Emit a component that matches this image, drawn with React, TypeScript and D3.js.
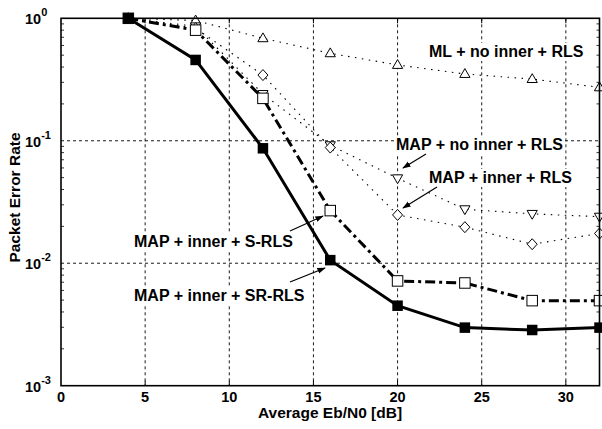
import React from "react";
import * as d3 from "d3";

const xs = [4, 8, 12, 16, 20, 24, 28, 32];
const srRls = [1.0, 0.457, 0.0868, 0.0106, 0.0045, 0.00298, 0.00285, 0.00298];
const sRls = [1.0, 0.8, 0.222, 0.0269, 0.00717, 0.0069, 0.00495, 0.00495];
const mlNoInner = [1.0, 0.96, 0.687, 0.518, 0.416, 0.351, 0.319, 0.273];
const mapNoInner = [1.0, 0.86, 0.241, 0.092, 0.0494, 0.0276, 0.0253, 0.024];
const mapInner = [1.0, 0.83, 0.344, 0.088, 0.0248, 0.0197, 0.0143, 0.0175];

const xTicks = [0, 5, 10, 15, 20, 25, 30];
const yTicks = [1, 0.1, 0.01, 0.001];
const yExps = ["0", "-1", "-2", "-3"];

const labels = [
  { text: "ML + no inner + RLS", x: 429, y: 57 },
  { text: "MAP + no inner + RLS", x: 396, y: 150 },
  { text: "MAP + inner + RLS", x: 429, y: 183 },
  { text: "MAP + inner + S-RLS", x: 134, y: 247 },
  { text: "MAP + inner + SR-RLS", x: 134, y: 301 },
];
const arrows = [
  { x1: 426, y1: 154, x2: 403, y2: 168 },
  { x1: 437, y1: 187, x2: 403, y2: 208 },
  { x1: 290, y1: 231, x2: 323, y2: 216 },
  { x1: 290, y1: 282, x2: 325, y2: 268 },
];

const W = 602;
const H = 429;
const L = 61, R = 599.5, T = 18.3, B = 385.7;
const FONT = "'Liberation Sans', Arial, Helvetica, sans-serif";
const LABEL_SIZE = 16;

function measure(text: string, size: number): number {
  try {
    const c = document.createElement("canvas").getContext("2d");
    if (c) {
      c.font = `bold ${size}px 'Liberation Sans', Arial, sans-serif`;
      return c.measureText(text).width;
    }
  } catch (e) {}
  return text.length * size * 0.55;
}

export default function App() {
  const x = d3.scaleLinear().domain([0, 32]).range([L, R]);
  const y = d3.scaleLog().domain([0.001, 1]).range([B, T]);
  const line = d3
    .line<[number, number]>()
    .x((d) => x(d[0]))
    .y((d) => y(d[1]));
  const pts = (vals: number[]) => xs.map((v, i) => [v, vals[i]] as [number, number]);

  const minor: number[] = [];
  for (let e = -3; e < 0; e++) {
    for (let m = 2; m <= 9; m++) minor.push(m * Math.pow(10, e));
  }

  const sq = 10.5;
  const tri = d3.symbol().type(d3.symbolTriangle).size(45)();
  const dia = (cx: number, cy: number) =>
    `M${cx},${cy - 5.5}L${cx + 5},${cy}L${cx},${cy + 5.5}L${cx - 5},${cy}Z`;

  return (
    <svg
      width={W}
      height={H}
      style={{ position: "absolute", left: 0, top: 0, background: "#fff" }}
      fontFamily={FONT}
    >
      <defs>
        <marker id="ah" viewBox="0 0 10 10" refX="9" refY="5" markerWidth="7" markerHeight="7" orient="auto">
          <path d="M0,1.5L10,5L0,8.5Z" fill="#000" />
        </marker>
      </defs>
      {/* grid */}
      {xTicks.slice(1).map((t) => (
        <line key={"gx" + t} x1={x(t)} x2={x(t)} y1={T} y2={B} stroke="#000" strokeWidth={0.9} strokeDasharray="3,3" />
      ))}
      {yTicks.slice(1, 3).map((t) => (
        <line key={"gy" + t} x1={L} x2={R} y1={y(t)} y2={y(t)} stroke="#000" strokeWidth={0.9} strokeDasharray="3,3" />
      ))}
      {/* label backgrounds */}
      {labels.map((l) => (
        <rect key={"bg" + l.text} x={l.x - 2} y={l.y - 14} width={measure(l.text, LABEL_SIZE) + 4} height={18} fill="#fff" />
      ))}
      {/* minor ticks */}
      {minor.map((m) => (
        <g key={"m" + m}>
          <line x1={L} x2={L + 3} y1={y(m)} y2={y(m)} stroke="#000" strokeWidth={0.8} />
          <line x1={R} x2={R - 3} y1={y(m)} y2={y(m)} stroke="#000" strokeWidth={0.8} />
        </g>
      ))}
      {xTicks.slice(1).map((t) => (
        <g key={"tx" + t}>
          <line x1={x(t)} x2={x(t)} y1={B} y2={B - 5} stroke="#000" strokeWidth={1} />
          <line x1={x(t)} x2={x(t)} y1={T} y2={T + 5} stroke="#000" strokeWidth={1} />
        </g>
      ))}
      {/* dotted series */}
      {[mlNoInner, mapNoInner, mapInner].map((s, i) => (
        <path key={"ds" + i} d={line(pts(s)) || ""} fill="none" stroke="#000" strokeWidth={1.1} strokeDasharray="1.5,5.5" />
      ))}
      {pts(mlNoInner).map(([a, b], i) => (
        <path key={"t" + i} d={tri} transform={`translate(${x(a)},${y(b) + 0.5})`} fill="#fff" stroke="#000" strokeWidth={1} />
      ))}
      {pts(mapNoInner).map(([a, b], i) => (
        <path key={"tv" + i} d={tri} transform={`translate(${x(a)},${y(b) - 0.5}) rotate(180)`} fill="#fff" stroke="#000" strokeWidth={1} />
      ))}
      {pts(mapInner).map(([a, b], i) => (
        <path key={"di" + i} d={dia(x(a), y(b))} fill="#fff" stroke="#000" strokeWidth={1} />
      ))}
      {/* S-RLS */}
      <path d={line(pts(sRls)) || ""} fill="none" stroke="#000" strokeWidth={3} strokeDasharray="10,4,3,4" />
      {pts(sRls).map(([a, b], i) => (
        <rect key={"os" + i} x={x(a) - sq / 2} y={y(b) - sq / 2} width={sq} height={sq} fill="#fff" stroke="#000" strokeWidth={1} />
      ))}
      {/* SR-RLS */}
      <path d={line(pts(srRls)) || ""} fill="none" stroke="#000" strokeWidth={3} />
      {pts(srRls).map(([a, b], i) => (
        <rect key={"fs" + i} x={x(a) - sq / 2} y={y(b) - sq / 2} width={sq} height={sq} fill="#000" />
      ))}
      {/* frame */}
      <rect x={L} y={T} width={R - L} height={B - T} fill="none" stroke="#000" strokeWidth={1.6} />
      {/* x tick labels */}
      {xTicks.map((t) => (
        <text key={"xl" + t} x={x(t)} y={402} textAnchor="middle" fontSize={14.5} fontWeight="bold">
          {t}
        </text>
      ))}
      {/* y tick labels */}
      {yTicks.map((t, i) => (
        <text key={"yl" + t} x={25} y={y(t) + 6} fontSize={14.5} fontWeight="bold">
          10
          <tspan dy={-8} fontSize={11}>
            {yExps[i]}
          </tspan>
        </text>
      ))}
      <text x={330} y={418} textAnchor="middle" fontSize={15.5} fontWeight="bold">
        Average Eb/N0 [dB]
      </text>
      <text transform={`translate(20,${197.5}) rotate(-90)`} textAnchor="middle" fontSize={15.5} fontWeight="bold">
        Packet Error Rate
      </text>
      {labels.map((l) => (
        <text key={l.text} x={l.x} y={l.y} fontSize={LABEL_SIZE} fontWeight="bold">
          {l.text}
        </text>
      ))}
      {arrows.map((a, i) => (
        <line key={"ar" + i} x1={a.x1} y1={a.y1} x2={a.x2} y2={a.y2} stroke="#000" strokeWidth={1.2} markerEnd="url(#ah)" />
      ))}
    </svg>
  );
}
